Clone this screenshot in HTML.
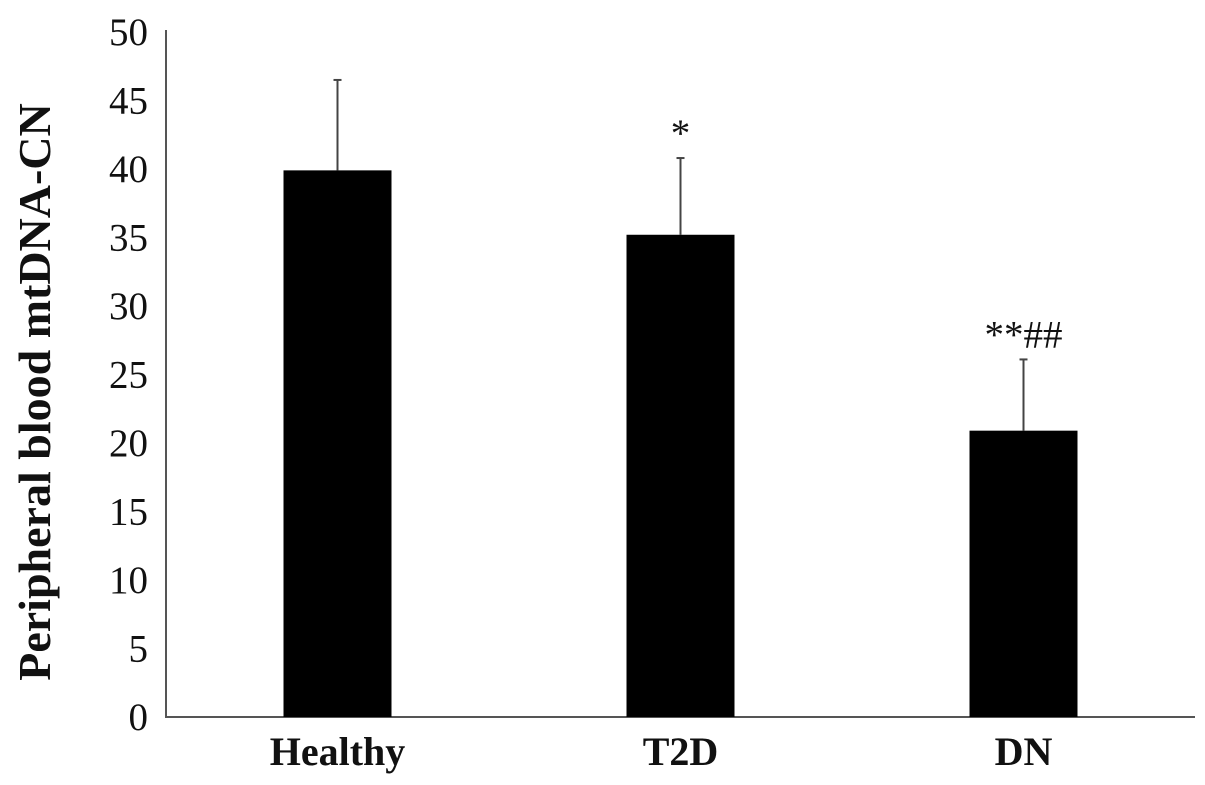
<!DOCTYPE html>
<html><head><meta charset="utf-8"><style>
body{margin:0;background:#fff}
svg{display:block}
text{font-family:"Liberation Serif",serif;fill:#111}
</style></head><body>
<svg id="chart" width="1205" height="785" viewBox="0 0 1205 785" xmlns="http://www.w3.org/2000/svg">
<g id="axes"></g><g id="bars"></g>
</svg>
<script>
const categories=["Healthy","T2D","DN"];
const values=[39.9,35.2,20.9];
const errors=[6.6,5.6,5.2];
const annotations=["","*","**##"];
const yTicks=[0,5,10,15,20,25,30,35,40,45,50];
const NS="http://www.w3.org/2000/svg";
const x0=166,x1=1195,yBase=717,yTop=32,yMax=50;
function y(v){return yBase-(v/yMax)*(yBase-yTop);}
const bandW=(x1-x0)/categories.length;
function xc(i){return x0+bandW*(i+0.5);}
const barW=108;
function mk(tag,attrs,parent,txt){const e=document.createElementNS(NS,tag);for(const k in attrs)e.setAttribute(k,attrs[k]);if(txt!==undefined)e.textContent=txt;parent.appendChild(e);return e;}
const axes=document.getElementById('axes'),bars=document.getElementById('bars');
let e=mk('line',{x1:x0,y1:30,x2:x0,y2:yBase,stroke:'#555','stroke-width':2},axes);


e=mk('line',{x1:x0-1,y1:yBase,x2:x1,y2:yBase,stroke:'#555','stroke-width':2},axes);


yTicks.forEach(t=>{
  const l=mk('text',{x:148,y:y(t)+13,'text-anchor':'end','font-size':39},axes,String(t));
  
  
});
const yt=mk('text',{x:0,y:0,'font-size':46,'font-weight':'bold','text-anchor':'middle',transform:'translate(50,392) rotate(-90)'},axes,'Peripheral blood mtDNA-CN');


categories.forEach((c,i)=>{
  const cx=xc(i);
  const ex=mk('line',{x1:cx,y1:y(values[i]),x2:cx,y2:y(values[i]+errors[i]),stroke:'#444','stroke-width':2},bars);
  
  
  const cap=mk('line',{x1:cx-4,y1:y(values[i]+errors[i]),x2:cx+4,y2:y(values[i]+errors[i]),stroke:'#444','stroke-width':2},bars);
  
  
  const r=mk('rect',{x:cx-barW/2,y:y(values[i]),width:barW,height:yBase-y(values[i]),fill:'#000'},bars);
  
  
  const l=mk('text',{x:cx,y:765,'text-anchor':'middle','font-size':40,'font-weight':'bold'},bars,c);
  
  
  if(annotations[i]){
    const a=mk('text',{x:cx,y:y(values[i]+errors[i])-12,'text-anchor':'middle','font-size':39},bars,annotations[i]);
    
    
  }
});
</script>
</body></html>
